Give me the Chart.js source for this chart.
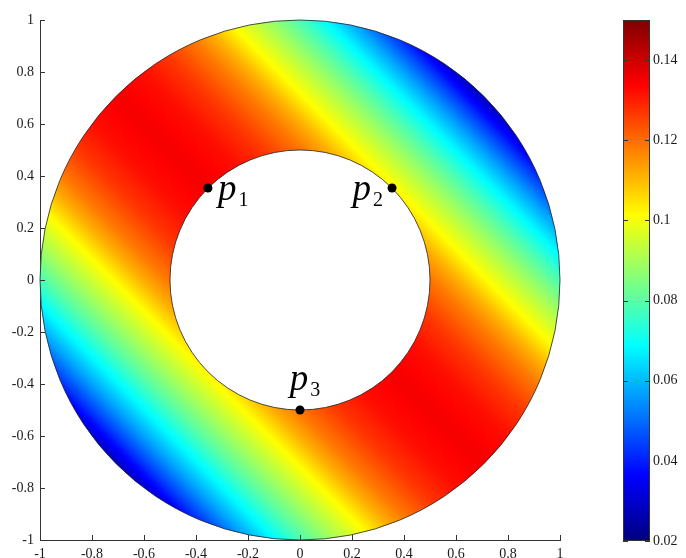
<!DOCTYPE html>
<html>
<head>
<meta charset="utf-8">
<script src="https://cdn.jsdelivr.net/npm/chart.js@4.4.1/dist/chart.umd.min.js"></script>
<style>
  html, body { margin: 0; padding: 0; background: #fff; }
  #wrap { position: relative; width: 686px; height: 558px; overflow: hidden; }
  #field { position: absolute; left: 0; top: 0; }
  #cbar { position: absolute; left: 600px; top: 0; }
</style>
</head>
<body>
<div id="wrap">
  <canvas id="field" width="686" height="558"></canvas>
  <canvas id="cbar" width="86" height="558"></canvas>
</div>
<script>
const FONT = '"Liberation Serif", "DejaVu Serif", serif';
const INK = '#1a1a1a';

// ring domain
const innerRadius = 0.5;
const outerRadius = 1;

// field across the stripes: value against x + y
const stripePos = [-1.414, -1.3, -1.2, -1.1, -1.0, -0.9, -0.8, -0.7, -0.6, -0.5, -0.35, -0.2, 0,
                   0.2, 0.35, 0.5, 0.6, 0.7, 0.8, 0.9, 1.0, 1.1, 1.2, 1.3, 1.414];
const stripeVal = [0.028, 0.044, 0.057, 0.068, 0.078, 0.087, 0.095, 0.103, 0.112, 0.119, 0.127, 0.132, 0.135,
                   0.132, 0.127, 0.119, 0.112, 0.103, 0.095, 0.087, 0.078, 0.068, 0.057, 0.044, 0.028];

// marked points on the inner rim
const pointX = [-0.354, 0.354, 0];
const pointY = [0.354, 0.354, -0.5];
const pointSub = ['1', '2', '3'];

const xTicks = [-1, -0.8, -0.6, -0.4, -0.2, 0, 0.2, 0.4, 0.6, 0.8, 1];
const yTicks = [-1, -0.8, -0.6, -0.4, -0.2, 0, 0.2, 0.4, 0.6, 0.8, 1];
const cbTicks = [0.02, 0.04, 0.06, 0.08, 0.1, 0.12, 0.14];
const cbMin = 0.02, cbMax = 0.15;

// MATLAB-style jet
function jet(t) {
  const c = (v) => Math.max(0, Math.min(1, v));
  return [c(1.5 - Math.abs(4 * t - 3)), c(1.5 - Math.abs(4 * t - 2)), c(1.5 - Math.abs(4 * t - 1))]
    .map((v) => Math.round(v * 255));
}

function valueAt(s) {
  if (s <= stripePos[0]) return stripeVal[0];
  for (let i = 1; i < stripePos.length; i++) {
    if (s <= stripePos[i]) {
      const f = (s - stripePos[i - 1]) / (stripePos[i] - stripePos[i - 1]);
      return stripeVal[i - 1] + f * (stripeVal[i] - stripeVal[i - 1]);
    }
  }
  return stripeVal[stripeVal.length - 1];
}

// shaded ring, clipped to the annulus, with thin rim lines
const ringPlugin = {
  id: 'ring',
  beforeDatasetsDraw(chart) {
    const { ctx, chartArea: a, scales: { x, y } } = chart;
    const w = Math.round(a.right - a.left), h = Math.round(a.bottom - a.top);
    const off = document.createElement('canvas');
    off.width = w; off.height = h;
    const octx = off.getContext('2d');
    const img = octx.createImageData(w, h);
    for (let j = 0; j < h; j++) {
      const vy = y.getValueForPixel(a.top + j + 0.5);
      for (let i = 0; i < w; i++) {
        const vx = x.getValueForPixel(a.left + i + 0.5);
        const [r, g, b] = jet((valueAt(vx + vy) - cbMin) / (cbMax - cbMin));
        const k = (j * w + i) * 4;
        img.data[k] = r; img.data[k + 1] = g; img.data[k + 2] = b; img.data[k + 3] = 255;
      }
    }
    octx.putImageData(img, 0, 0);

    const cx = x.getPixelForValue(0), cy = y.getPixelForValue(0);
    const Rx = x.getPixelForValue(outerRadius) - cx, Ry = cy - y.getPixelForValue(outerRadius);
    const rx = x.getPixelForValue(innerRadius) - cx, ry = cy - y.getPixelForValue(innerRadius);
    const ring = () => {
      ctx.beginPath();
      ctx.ellipse(cx, cy, Rx, Ry, 0, 0, 2 * Math.PI);
      ctx.moveTo(cx + rx, cy);
      ctx.ellipse(cx, cy, rx, ry, 0, 0, 2 * Math.PI, true);
    };
    ctx.save();
    ring();
    ctx.clip();
    ctx.drawImage(off, a.left, a.top);
    ctx.restore();
    ctx.save();
    ring();
    ctx.lineWidth = 0.8;
    ctx.strokeStyle = '#222';
    ctx.stroke();
    ctx.restore();
  },
  afterDraw(chart) {
    // inward tick marks
    const { ctx, chartArea: a, scales: { x, y } } = chart;
    ctx.save();
    ctx.strokeStyle = '#333';
    ctx.lineWidth = 1;
    ctx.beginPath();
    xTicks.forEach((v) => {
      const px = Math.round(x.getPixelForValue(v)) + 0.5;
      ctx.moveTo(px, a.bottom); ctx.lineTo(px, a.bottom - 5);
    });
    yTicks.forEach((v) => {
      const py = Math.round(y.getPixelForValue(v)) + 0.5;
      ctx.moveTo(a.left, py); ctx.lineTo(a.left + 5, py);
    });
    ctx.stroke();
    ctx.restore();
  }
};

// p_i labels next to the points
const LABEL = { main: 'italic 37px ' + FONT, sub: '20px ' + FONT, subDrop: 6, gap: 2,
  dx: [10, -9, 5], dy: [12, 12, -20], align: ['left', 'right', 'center'] };
const labelPlugin = {
  id: 'plabels',
  afterDatasetsDraw(chart) {
    const { ctx, scales: { x, y } } = chart;
    ctx.save();
    ctx.fillStyle = '#000';
    ctx.textBaseline = 'alphabetic';
    ctx.textAlign = 'left';
    pointSub.forEach((sub, i) => {
      const px = x.getPixelForValue(pointX[i]) + LABEL.dx[i];
      const py = y.getPixelForValue(pointY[i]) + LABEL.dy[i];
      ctx.font = LABEL.main;
      const wp = ctx.measureText('p').width + LABEL.gap;
      ctx.font = LABEL.sub;
      const ws = ctx.measureText(sub).width;
      const total = wp + ws;
      let left = px;
      if (LABEL.align[i] === 'right') left = px - total;
      if (LABEL.align[i] === 'center') left = px - total / 2;
      ctx.font = LABEL.main;
      ctx.fillText('p', left, py);
      ctx.font = LABEL.sub;
      ctx.fillText(sub, left + wp, py + LABEL.subDrop);
    });
    ctx.restore();
  }
};

const tickFont = { family: FONT, size: 14 };

new Chart(document.getElementById('field'), {
  type: 'scatter',
  data: {
    datasets: [{
      data: pointX.map((v, i) => ({ x: v, y: pointY[i] })),
      pointRadius: 4.5, pointBackgroundColor: '#000', pointBorderWidth: 0
    }]
  },
  options: {
    responsive: false, animation: false, events: [],
    layout: { padding: { left: 0, top: 20, right: 126, bottom: 0 } },
    plugins: { legend: { display: false }, tooltip: { enabled: false } },
    scales: {
      x: {
        type: 'linear', min: -1, max: 1,
        grid: { display: false, drawTicks: false },
        border: { display: true, color: '#333', width: 1 },
        ticks: { font: tickFont, color: INK, padding: 6, maxRotation: 0, autoSkip: false, callback: (v) => String(v) },
        afterBuildTicks: (s) => { s.ticks = xTicks.map((v) => ({ value: v })); },
        afterFit: (s) => { s.height = 18; }
      },
      y: {
        type: 'linear', min: -1, max: 1,
        grid: { display: false, drawTicks: false },
        border: { display: true, color: '#333', width: 1 },
        ticks: { font: tickFont, color: INK, padding: 6, autoSkip: false, callback: (v) => String(v) },
        afterBuildTicks: (s) => { s.ticks = yTicks.map((v) => ({ value: v })); },
        afterFit: (s) => { s.width = 40; }
      }
    }
  },
  plugins: [ringPlugin, labelPlugin]
});

// colour bar: one floating bar spanning the colour range
const cbFrame = {
  id: 'cbframe',
  afterDatasetsDraw(chart) {
    const { ctx, chartArea: a, scales: { y } } = chart;
    ctx.save();
    ctx.strokeStyle = '#333';
    ctx.lineWidth = 1;
    ctx.strokeRect(Math.round(a.left) + 0.5, Math.round(a.top) + 0.5, Math.round(a.right - a.left) - 1, Math.round(a.bottom - a.top) - 1);
    ctx.beginPath();
    cbTicks.forEach((v) => {
      const py = Math.round(y.getPixelForValue(v)) + 0.5;
      ctx.moveTo(a.left, py); ctx.lineTo(a.left + 5, py);
      ctx.moveTo(a.right, py); ctx.lineTo(a.right - 5, py);
    });
    ctx.stroke();
    ctx.restore();
  }
};

new Chart(document.getElementById('cbar'), {
  type: 'bar',
  data: {
    labels: [''],
    datasets: [{
      data: [[cbMin, cbMax]],
      barPercentage: 1, categoryPercentage: 1, borderWidth: 0,
      backgroundColor: (c) => {
        const { ctx, chartArea } = c.chart;
        if (!chartArea) return '#000';
        const g = ctx.createLinearGradient(0, chartArea.bottom, 0, chartArea.top);
        for (let i = 0; i <= 64; i++) {
          const [r, gg, b] = jet(i / 64);
          g.addColorStop(i / 64, `rgb(${r},${gg},${b})`);
        }
        return g;
      }
    }]
  },
  options: {
    responsive: false, animation: false, events: [],
    layout: { padding: { left: 23, top: 20, right: 0, bottom: 17 } },
    plugins: { legend: { display: false }, tooltip: { enabled: false } },
    scales: {
      x: { display: false },
      y: {
        position: 'right', min: cbMin, max: cbMax,
        grid: { display: false, drawTicks: false },
        border: { display: false },
        ticks: { font: tickFont, color: INK, padding: 3, callback: (v) => String(v) },
        afterBuildTicks: (s) => { s.ticks = cbTicks.map((v) => ({ value: v })); },
        afterFit: (s) => { s.width = 36; }
      }
    }
  },
  plugins: [cbFrame]
});
</script>
</body>
</html>
